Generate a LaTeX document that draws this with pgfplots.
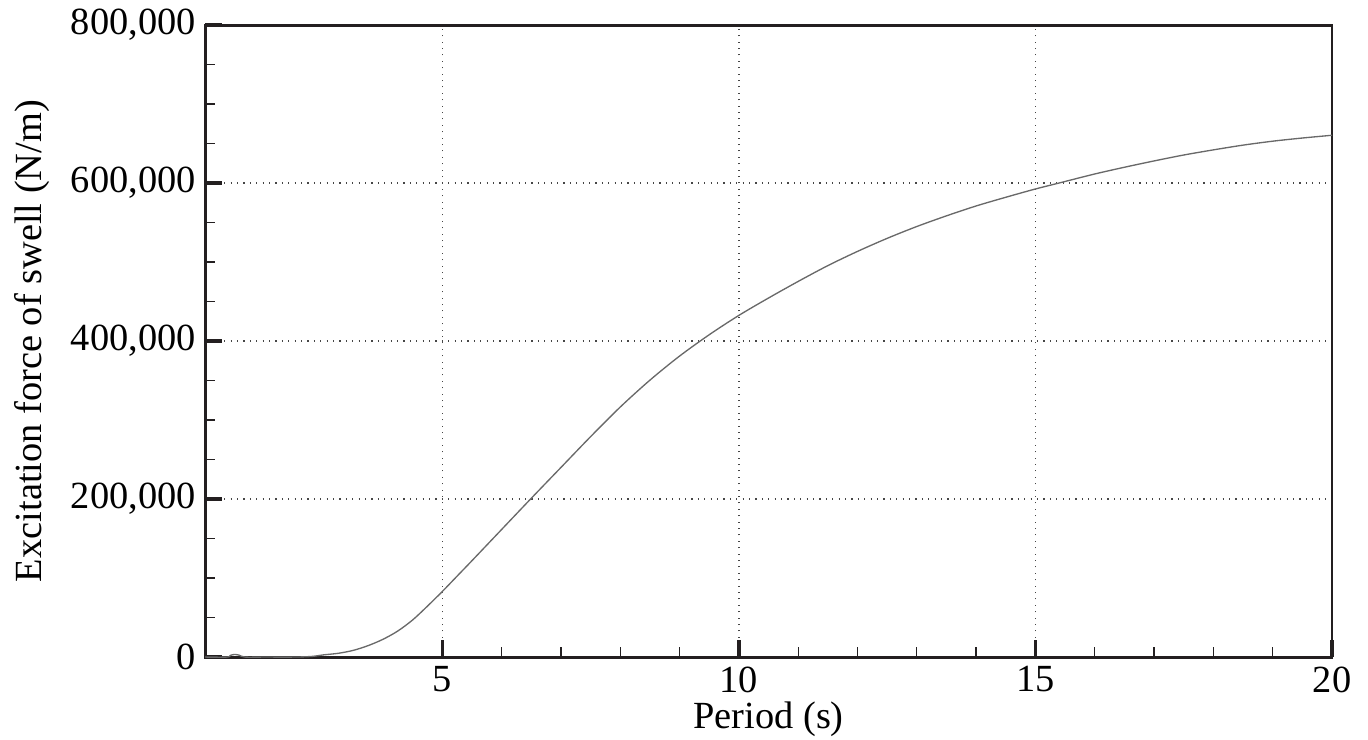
\documentclass[border=0pt]{standalone}
\usepackage{fontspec}
\setmainfont{Liberation Serif}
\usepackage{pgfplots}
\pgfplotsset{compat=1.18}
\definecolor{curvegray}{RGB}{105,105,105}
\definecolor{gridgray}{RGB}{70,70,70}
\definecolor{axisblack}{RGB}{35,31,32}
\begin{document}
\begin{tikzpicture}
\begin{axis}[
  scale only axis,
  width=422.6pt, height=237pt,
  at={(0,0)}, anchor=south west,
  xmin=1, xmax=20, ymin=0, ymax=800000,
  xtick={5,10,15,20},
  ytick={0,200000,400000,600000,800000},
  minor x tick num=4,
  minor y tick num=3,
  tick pos=left,
  tick align=inside,
  major tick length=6.4pt,
  minor tick length=3.75pt,
  every major tick/.style={line width=1.25pt, axisblack},
  every minor tick/.style={line width=0.5pt, axisblack},
  axis line style={line width=1.1pt, axisblack},
  grid=major,
  major grid style={dotted, line width=0.5pt, gridgray},
  scaled y ticks=false,
  /pgf/number format/assume math mode=true,
  yticklabel style={/pgf/number format/.cd, fixed, 1000 sep={,}},
  tick label style={font=\fontsize{14.4}{17}\selectfont, text=black},
  label style={font=\fontsize{14.4}{17}\selectfont},
  xlabel={Period (s)},
  ylabel={Excitation force of swell (N/m)},
  xlabel style={at={(axis description cs:0.5,-0.1128)}, anchor=base},
  ylabel style={at={(axis description cs:-0.1455,0.5)}, anchor=base},
]
\addplot[curvegray, line width=0.5pt, smooth] coordinates {
(1.0,0) (1.37,0) (1.43,2200) (1.5,3300) (1.58,2300) (1.67,0)
(2.0,0) (2.5,0) (2.8,800) (3.0,2800) (3.25,4800) (3.5,8500) (3.75,14500)
(4.0,22500) (4.25,33000) (4.5,47000) (4.75,64500) (5.0,83000) (5.25,102500)
(5.5,122000) (6.0,161500) (6.5,201000) (7.0,240000) (7.5,279000) (8.0,316500)
(8.5,350500) (9.0,381000) (9.5,408000) (10.0,432500) (10.5,454500)
(11.0,475500) (11.5,495500) (12.0,513500) (12.5,530000) (13.0,545000)
(13.5,558500) (14.0,571000) (14.5,582000) (15.0,592500) (15.5,602000)
(16.0,611500) (16.5,620000) (17.0,628000) (17.5,635500) (18.0,642000)
(18.5,648000) (19.0,653000) (19.5,657000) (20.0,660500)
};
\end{axis}
\pgfresetboundingbox
\path[use as bounding box] (-76.9pt,-31.1pt) rectangle (436.1pt,246.4pt);
\end{tikzpicture}
\end{document}
